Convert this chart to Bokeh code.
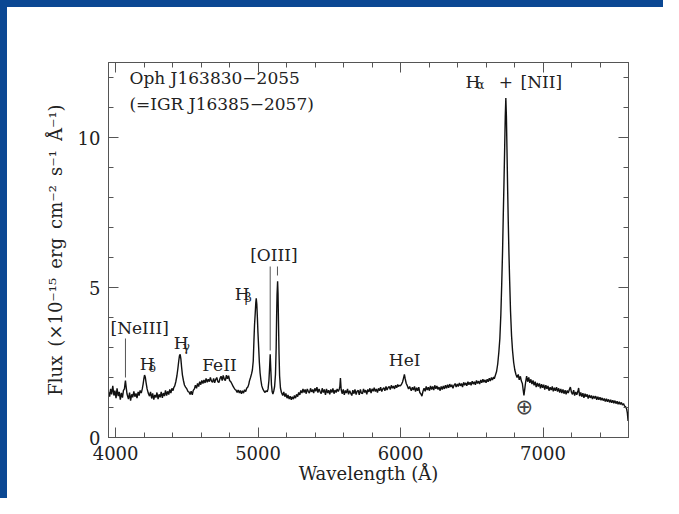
from bokeh.plotting import figure
from bokeh.models import Range1d, LinearAxis, SingleIntervalTicker, ColumnDataSource
from bokeh.core.properties import value
from bokeh.embed import file_html
from bokeh.resources import INLINE

# ---------------- data ----------------
wavelength = [
    3950, 3958, 3965, 3972, 3980, 3988, 3995, 4003, 4010, 4018, 4025, 4033, 4040, 4048, 4055,
    4062, 4066, 4069, 4074, 4080,
    4090, 4098, 4105, 4113, 4120, 4128, 4135, 4143, 4150, 4158, 4165, 4172, 4180,
    4187, 4193, 4198, 4203, 4208, 4214, 4221, 4229,
    4238, 4245, 4253, 4260, 4268, 4275, 4283, 4290, 4298, 4305, 4313, 4320, 4328, 4335, 4343,
    4350, 4358, 4365, 4373, 4380, 4388, 4395, 4403,
    4408, 4415, 4422, 4430, 4437, 4443, 4448, 4453, 4458, 4463, 4469, 4476, 4483, 4491,
    4500, 4508, 4515, 4523, 4530, 4538, 4545,
    4553, 4560, 4568, 4575, 4583, 4590, 4598, 4605, 4613, 4620, 4628, 4635, 4643, 4650, 4658,
    4665, 4673, 4680, 4688, 4695, 4703, 4710, 4718, 4725, 4733, 4740, 4748, 4755, 4763, 4770,
    4778, 4785, 4793, 4800, 4808, 4815, 4823, 4830, 4838, 4845, 4853, 4860, 4868, 4875, 4883,
    4890, 4898, 4905, 4913, 4920, 4928, 4935,
    4939, 4947, 4954, 4960, 4966, 4971, 4975, 4980, 4984, 4987, 4991, 4995, 4999, 5004, 5009,
    5014, 5020, 5026, 5033, 5041, 5049, 5057, 5064,
    5070, 5076, 5081, 5085, 5089, 5094, 5099, 5104, 5110,
    5116, 5122, 5127, 5130, 5133, 5137, 5140, 5143, 5147, 5151, 5157, 5164,
    5173, 5180, 5188, 5195, 5203, 5210, 5218, 5225, 5233, 5240, 5248, 5255, 5263, 5270, 5278,
    5285, 5293, 5300, 5308, 5315, 5323, 5330, 5338, 5345, 5353, 5360, 5368, 5375, 5383, 5390,
    5398, 5405, 5413, 5420, 5428, 5435, 5443, 5450, 5458, 5465, 5473, 5480, 5488, 5495, 5503,
    5510, 5518, 5525, 5533, 5540, 5548, 5555, 5563, 5570, 5574, 5578, 5583,
    5590, 5598, 5605, 5613, 5620, 5628, 5635, 5643, 5650, 5658, 5665, 5673, 5680, 5688, 5695,
    5703, 5710, 5718, 5725, 5733, 5740, 5748, 5755, 5763, 5770, 5778, 5785, 5793, 5800, 5808,
    5815, 5823, 5830, 5838, 5845, 5853, 5860, 5868, 5875, 5883, 5890, 5898, 5905, 5913, 5920,
    5928, 5935, 5943, 5950, 5958, 5965, 5973, 5980, 5985,
    5991, 5999, 6007, 6014, 6021, 6027, 6033, 6040, 6048, 6056, 6064,
    6075, 6083, 6090, 6098, 6105, 6113, 6120, 6128, 6135, 6143, 6150, 6158, 6165, 6173, 6180,
    6188, 6195, 6203, 6210, 6218, 6225, 6233, 6240, 6248, 6255, 6263, 6270, 6278, 6285, 6293,
    6300, 6308, 6315, 6323, 6330, 6338, 6345, 6353, 6360, 6368, 6375, 6383, 6390, 6398, 6405,
    6413, 6420, 6428, 6435, 6443, 6450, 6458, 6465, 6473, 6480, 6488, 6495, 6503, 6510, 6518,
    6525, 6533, 6540, 6548, 6555, 6563, 6570, 6578, 6585, 6593, 6600, 6608, 6615, 6623, 6630,
    6638, 6645, 6653, 6658,
    6664, 6674, 6682, 6690, 6697, 6704, 6710, 6716, 6721, 6726, 6731, 6735, 6739, 6743, 6747,
    6752, 6756, 6761, 6766, 6772, 6779, 6786, 6794, 6802, 6810,
    6818, 6826, 6833, 6841, 6848, 6855, 6861, 6866, 6872, 6878, 6885, 6892, 6900, 6907, 6915,
    6922, 6930, 6937, 6945, 6952, 6960, 6967, 6975, 6982, 6990, 6997, 7005, 7012, 7020, 7027,
    7035, 7042, 7050, 7057, 7065, 7072, 7080, 7087, 7095, 7102, 7110, 7117, 7125, 7132, 7140,
    7147, 7155, 7162, 7170, 7177, 7185, 7192, 7200, 7207, 7215, 7222, 7230, 7237, 7245, 7250,
    7257, 7265, 7272, 7280, 7287, 7295, 7302, 7310, 7317, 7325, 7332, 7340, 7347, 7355, 7362,
    7370, 7377, 7385, 7392, 7400, 7407, 7415, 7422, 7430, 7437, 7445, 7452, 7460, 7467, 7475,
    7482, 7490, 7497, 7505, 7512, 7520, 7527, 7535, 7542, 7550, 7557, 7565, 7572, 7580, 7587,
    7592, 7597,
]

flux = [
    1.52, 1.36, 1.62, 1.44, 1.72, 1.40, 1.56, 1.31, 1.64, 1.38, 1.52, 1.26, 1.49, 1.33, 1.57,
    1.62, 1.80, 1.90, 1.68, 1.45,
    1.28, 1.50, 1.23, 1.44, 1.34, 1.54, 1.36, 1.47, 1.31, 1.52, 1.40, 1.57, 1.48,
    1.62, 1.78, 1.95, 2.08, 2.02, 1.82, 1.62, 1.48,
    1.38, 1.52, 1.30, 1.47, 1.26, 1.42, 1.33, 1.50, 1.28, 1.44, 1.34, 1.52, 1.32, 1.48, 1.38,
    1.57, 1.40, 1.54, 1.43, 1.60, 1.48, 1.64, 1.56,
    1.66, 1.72, 1.85, 2.05, 2.30, 2.55, 2.72, 2.77, 2.62, 2.35, 2.08, 1.90, 1.75, 1.68,
    1.62, 1.53, 1.52, 1.43, 1.54, 1.42, 1.57,
    1.62, 1.74, 1.64, 1.80, 1.70, 1.86, 1.76, 1.90, 1.80, 1.92, 1.82, 1.97, 1.84, 1.94, 1.86,
    2.00, 1.88, 1.84, 1.97, 1.82, 1.94, 2.00, 1.86, 1.83, 1.97, 2.04, 1.90, 2.07, 1.94, 1.90,
    2.08, 1.96, 2.06, 1.90, 1.86, 1.80, 1.72, 1.66, 1.60, 1.58, 1.50, 1.58, 1.48, 1.57, 1.46,
    1.56, 1.48, 1.59, 1.53, 1.64, 1.68, 1.78,
    1.88, 2.00, 2.12, 2.25, 2.55, 3.25, 3.75, 4.15, 4.50, 4.64, 4.45, 4.00, 3.50, 3.00, 2.50,
    2.15, 1.90, 1.72, 1.62, 1.55, 1.50, 1.56, 1.52,
    1.62, 1.90, 2.35, 2.77, 2.30, 1.75, 1.52, 1.45, 1.55,
    1.70, 2.10, 3.00, 4.00, 4.75, 5.21, 4.80, 3.90, 2.80, 2.05, 1.65, 1.50,
    1.40, 1.52, 1.36, 1.47, 1.31, 1.42, 1.28, 1.38, 1.26, 1.36, 1.28, 1.40, 1.31, 1.44, 1.36,
    1.50, 1.42, 1.57, 1.48, 1.62, 1.50, 1.60, 1.46, 1.62, 1.53, 1.48, 1.64, 1.52, 1.60, 1.48,
    1.64, 1.54, 1.68, 1.50, 1.62, 1.53, 1.46, 1.64, 1.50, 1.60, 1.42, 1.62, 1.48, 1.58, 1.44,
    1.60, 1.50, 1.64, 1.46, 1.58, 1.50, 1.62, 1.53, 1.62, 1.70, 1.98, 1.60,
    1.46, 1.60, 1.42, 1.57, 1.48, 1.62, 1.44, 1.56, 1.48, 1.40, 1.58, 1.46, 1.60, 1.43, 1.54,
    1.57, 1.42, 1.60, 1.48, 1.46, 1.62, 1.50, 1.58, 1.44, 1.60, 1.52, 1.64, 1.48, 1.62, 1.54,
    1.66, 1.53, 1.62, 1.50, 1.64, 1.56, 1.68, 1.53, 1.62, 1.66, 1.56, 1.70, 1.58, 1.67, 1.70,
    1.60, 1.74, 1.64, 1.72, 1.62, 1.74, 1.66, 1.77, 1.70,
    1.74, 1.72, 1.78, 1.85, 1.98, 2.10, 1.95, 1.80, 1.72, 1.62, 1.70,
    1.56, 1.68, 1.58, 1.70, 1.53, 1.66, 1.56, 1.68, 1.50, 1.45, 1.38, 1.55, 1.64, 1.54, 1.70,
    1.58, 1.68, 1.56, 1.72, 1.60, 1.70, 1.58, 1.74, 1.62, 1.72, 1.60, 1.68, 1.56, 1.70, 1.60,
    1.72, 1.62, 1.74, 1.64, 1.76, 1.66, 1.78, 1.68, 1.76, 1.64, 1.74, 1.80, 1.68, 1.78, 1.70,
    1.82, 1.72, 1.80, 1.68, 1.84, 1.74, 1.82, 1.72, 1.86, 1.76, 1.84, 1.74, 1.88, 1.78, 1.86,
    1.76, 1.90, 1.80, 1.88, 1.78, 1.92, 1.82, 1.94, 1.84, 1.92, 1.82, 1.94, 1.86, 1.98, 1.88,
    2.00, 1.92, 2.02, 1.96,
    2.05, 2.20, 2.45, 2.85, 3.30, 4.10, 5.10, 6.20, 7.40, 8.50, 9.70, 10.70, 11.32, 10.70, 9.60,
    8.20, 7.20, 6.10, 5.20, 4.20, 3.40, 2.90, 2.50, 2.25, 2.10,
    2.00, 2.10, 1.92, 2.04, 1.88, 1.80, 1.58, 1.40, 1.62, 1.85, 2.05, 1.86, 2.00, 1.82, 1.94,
    1.78, 1.90, 1.74, 1.86, 1.68, 1.82, 1.70, 1.80, 1.64, 1.78, 1.66, 1.76, 1.60, 1.74, 1.62,
    1.72, 1.56, 1.68, 1.58, 1.70, 1.54, 1.66, 1.56, 1.68, 1.53, 1.64, 1.50, 1.62, 1.48, 1.60,
    1.46, 1.58, 1.44, 1.57, 1.48, 1.60, 1.68, 1.50, 1.44, 1.58, 1.40, 1.52, 1.42, 1.54, 1.65,
    1.38, 1.50, 1.36, 1.48, 1.32, 1.46, 1.36, 1.44, 1.30, 1.42, 1.32, 1.40, 1.28, 1.38, 1.30,
    1.38, 1.26, 1.36, 1.26, 1.34, 1.24, 1.32, 1.23, 1.30, 1.20, 1.29, 1.19, 1.27, 1.17, 1.26,
    1.16, 1.24, 1.14, 1.23, 1.13, 1.21, 1.11, 1.19, 1.10, 1.17, 1.08, 1.13, 1.05, 1.02, 0.95,
    0.82, 0.55,
]

# text labels on the plot (data coordinates)
label_text = ["Oph J163830\u22122055", "(=IGR J16385\u22122057)", "[NeIII]", "H", "H",
              "FeII", "H", "HeI", "H", "+", "[NII]"]
label_x = [4097, 4097, 3964, 4170, 4408, 4608, 4837, 5918, 6456, 6739, 6842]
label_y = [11.99, 11.11, 3.64, 2.45, 3.14, 2.42, 4.77, 2.58, 11.86, 11.86, 11.86]
label_align = ["left", "left", "left", "left", "left", "left", "left", "left", "left",
               "center", "left"]

oiii_text = ["[OIII]"]
oiii_x = [5111]
oiii_y = [6.08]

sub_text = ["\u03b4", "\u03b3", "\u03b2", "\u03b1"]
sub_x = [4233, 4472, 4907, 6531]
sub_y = [2.33, 3.03, 4.66, 11.75]

marker_x = [4069, 5085, 5136]
marker_y0 = [3.30, 5.70, 5.70]
marker_y1 = [2.00, 2.90, 5.40]

earth_text = ["\u2295"]
earth_x = [6869]
earth_y = [1.01]

x_start, x_end = 3950, 7600
y_start, y_end = 0, 12.5

# ---------------- figure ----------------
BLUE = "#0b4893"
INK = "#222222"
FRAME = "#555555"
SERIF = "DejaVu Serif"
SP = "\u2002"

p = figure(width=656, height=491,
           frame_width=520, frame_height=375,
           min_border_left=101, min_border_right=35,
           min_border_top=55, min_border_bottom=61,
           x_range=Range1d(x_start, x_end), y_range=Range1d(y_start, y_end),
           output_backend="svg", toolbar_location=None,
           x_axis_label="Wavelength (\u00c5)",
           y_axis_label=("Flux" + SP + "(\u00d710\u207b\u00b9\u2075" + SP + "erg" + SP
                         + "cm\u207b\u00b2" + SP + "s\u207b\u00b9" + SP + "\u00c5\u207b\u00b9)"))
p.background_fill_color = "white"
p.border_fill_color = "white"
p.outline_line_color = FRAME
p.outline_line_width = 1
p.xgrid.visible = False
p.ygrid.visible = False
# blue page bands along the top and left edges
p.styles = {"border-top": "7px solid " + BLUE, "border-left": "7px solid " + BLUE,
            "box-sizing": "content-box"}

bottom_axis = p.below[0]
left_axis = p.left[0]

xt = SingleIntervalTicker(interval=1000, num_minor_ticks=5)
yt = SingleIntervalTicker(interval=5, num_minor_ticks=5)
bottom_axis.ticker = xt
left_axis.ticker = yt

top_axis = LinearAxis(ticker=xt)
right_axis = LinearAxis(ticker=yt)
p.add_layout(top_axis, "above")
p.add_layout(right_axis, "right")

for ax in [bottom_axis, left_axis, top_axis, right_axis]:
    ax.major_tick_in = 10
    ax.major_tick_out = 0
    ax.minor_tick_in = 5
    ax.minor_tick_out = 0
    ax.major_tick_line_color = FRAME
    ax.minor_tick_line_color = FRAME
    ax.axis_line_color = FRAME
    ax.major_label_text_font = SERIF
    ax.major_label_text_font_size = "18px"
    ax.major_label_text_color = INK
    ax.axis_label_text_font = SERIF
    ax.axis_label_text_font_size = "18px"
    ax.axis_label_text_font_style = "normal"
    ax.axis_label_text_color = INK

for ax in [top_axis, right_axis]:
    ax.major_label_text_color = None
    ax.major_label_text_font_size = "1px"

bottom_axis.major_label_standoff = 8
bottom_axis.axis_label_standoff = 0
left_axis.major_label_standoff = 8
left_axis.axis_label_standoff = 9
left_axis.major_label_orientation = "horizontal"

src = ColumnDataSource(dict(w=wavelength, f=flux))
p.line("w", "f", source=src, line_color="#111111", line_width=1.4)

p.segment(x0=marker_x, y0=marker_y0, x1=marker_x, y1=marker_y1,
          line_color="#555555", line_width=1)

p.text(x=label_x, y=label_y, text=label_text, text_align=label_align,
       text_baseline="alphabetic", text_font=value(SERIF),
       text_font_size="17px", text_color=INK)
p.text(x=oiii_x, y=oiii_y, text=oiii_text, text_align="center",
       text_baseline="alphabetic", text_font=value(SERIF),
       text_font_size="17px", text_color=INK)
p.text(x=sub_x, y=sub_y, text=sub_text, text_align="left",
       text_baseline="alphabetic", text_font=value(SERIF),
       text_font_size="12px", text_color=INK)
p.text(x=earth_x, y=earth_y, text=earth_text, text_align="center",
       text_baseline="middle", text_font=value("DejaVu Sans"),
       text_font_size="21px", text_color="#444444")

open("out.html", "w").write(file_html(p, INLINE))
